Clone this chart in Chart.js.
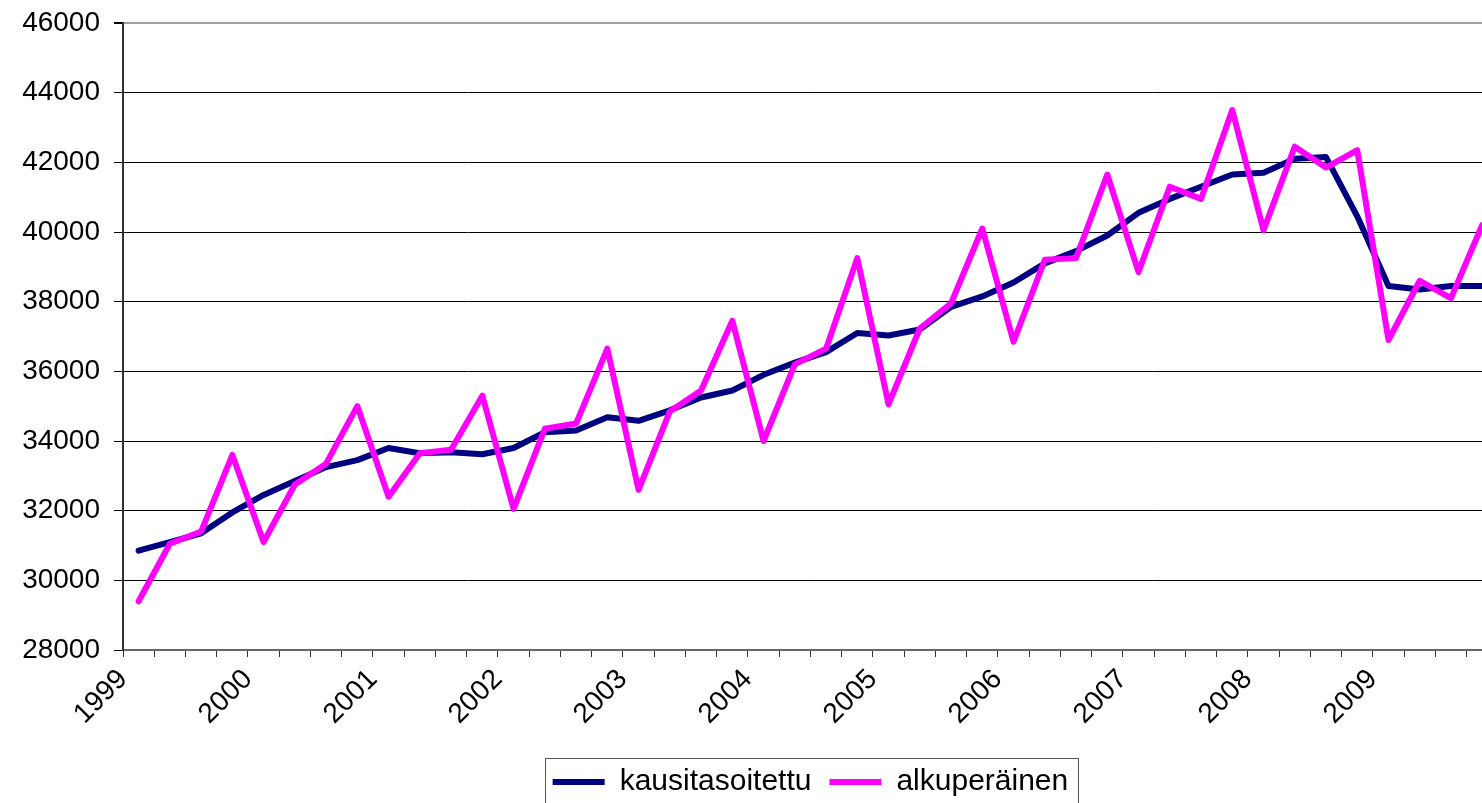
<!DOCTYPE html>
<html lang="fi">
<head>
    <meta charset="UTF-8">
    <title>kausitasoitettu / alkuperäinen</title>
    <script src="https://cdn.jsdelivr.net/npm/chart.js@4.4.1/dist/chart.umd.min.js"></script>
    <style>
        html, body { margin: 0; padding: 0; background: #fff; overflow: hidden; }
        #wrap { position: absolute; left: 0; top: 0; }
    </style>
</head>
<body>
<div id="wrap">
    <canvas id="chart" width="1512" height="810"></canvas>
</div>

<script>
    // vuosineljännekset 1999 Q1 - 2009 Q4
    const years = ['1999', '2000', '2001', '2002', '2003', '2004', '2005', '2006', '2007', '2008', '2009'];
    const quarterLabels = years.flatMap(y => [y, '', '', '']);

    const kausitasoitettu = [
        30850, 31100, 31350, 31950, 32450, 32850, 33250, 33450,
        33800, 33650, 33680, 33620, 33800, 34250, 34300, 34680,
        34580, 34880, 35250, 35450, 35900, 36250, 36550, 37100,
        37030, 37200, 37850, 38150, 38550, 39100, 39450, 39900,
        40550, 40950, 41300, 41650, 41700, 42100, 42150, 40450,
        38450, 38350, 38450, 38450
    ];

    const alkuperainen = [
        29400, 31050, 31400, 33600, 31100, 32750, 33350, 35000,
        32400, 33650, 33750, 35300, 32050, 34350, 34500, 36650,
        32600, 34850, 35450, 37450, 34000, 36200, 36650, 39250,
        35050, 37230, 37950, 40100, 36850, 39200, 39250, 41650,
        38850, 41300, 40950, 43500, 40050, 42450, 41850, 42350,
        36900, 38600, 38100, 40200
    ];

    const yMin = 28000, yMax = 46000, yStep = 2000;
    const font = 'Liberation Sans, Arial, sans-serif';

    // kehys legendan ympärille
    const legendFrame = {
        id: 'legendFrame',
        afterDraw(chart) {
            const lg = chart.legend;
            if (!lg || !lg.legendHitBoxes.length) return;
            const hb = lg.legendHitBoxes;
            const first = hb[0], last = hb[hb.length - 1];
            const left = Math.round(first.left - 8) + 0.5;
            const right = Math.round(last.left + last.width + 10) + 0.5;
            const top = Math.round(first.top + first.height / 2 - 24) + 0.5;
            const ctx = chart.ctx;
            ctx.save();
            ctx.strokeStyle = '#555';
            ctx.lineWidth = 1;
            ctx.strokeRect(left, top, right - left, chart.height + 10 - top);
            ctx.restore();
        }
    };

    new Chart(document.getElementById('chart'), {
        type: 'line',
        data: {
            labels: quarterLabels,
            datasets: [
                {
                    label: 'kausitasoitettu',
                    data: kausitasoitettu,
                    borderColor: '#000080',
                    backgroundColor: '#000080',
                    borderWidth: 6,
                    pointRadius: 0,
                    pointStyle: 'line',
                    tension: 0,
                    borderJoinStyle: 'round',
                    borderCapStyle: 'round',
                    order: 1
                },
                {
                    label: 'alkuperäinen',
                    data: alkuperainen,
                    borderColor: '#ff00ff',
                    backgroundColor: '#ff00ff',
                    borderWidth: 6,
                    pointRadius: 0,
                    pointStyle: 'line',
                    tension: 0,
                    borderJoinStyle: 'round',
                    borderCapStyle: 'round',
                    order: 0
                }
            ]
        },
        options: {
            responsive: false,
            animation: false,
            devicePixelRatio: 1,
            layout: { padding: { top: 23, right: 0, bottom: 3, left: 0 } },
            plugins: {
                tooltip: { enabled: false },
                legend: {
                    position: 'bottom',
                    fullSize: false,
                    labels: {
                        usePointStyle: true,
                        pointStyleWidth: 52,
                        padding: 18,
                        color: '#000',
                        font: { family: font, size: 30 },
                        sort: (a, b) => a.datasetIndex - b.datasetIndex
                    }
                }
            },
            scales: {
                x: {
                    type: 'category',
                    offset: true,
                    afterFit: (scale) => { scale.height = 99; },
                    grid: {
                        offset: true,
                        drawOnChartArea: false,
                        tickLength: 7,
                        tickColor: '#333'
                    },
                    border: { color: '#666', width: 2 },
                    ticks: {
                        autoSkip: false,
                        minRotation: 45,
                        maxRotation: 45,
                        labelOffset: -15.65,
                        padding: 6,
                        color: '#000',
                        font: { family: font, size: 28 }
                    }
                },
                y: {
                    min: yMin,
                    max: yMax,
                    afterFit: (scale) => { scale.width = 123; },
                    grid: {
                        color: (c) => c.tick && c.tick.value === yMax ? '#a0a0a0' : '#000',
                        lineWidth: (c) => c.tick && c.tick.value === yMax ? 2 : 1,
                        tickColor: '#000',
                        tickLength: 9
                    },
                    border: { color: '#333', width: 2 },
                    ticks: {
                        stepSize: yStep,
                        padding: 14,
                        color: '#000',
                        font: { family: font, size: 28, lineHeight: 0.6 },
                        callback: (v) => String(v)
                    }
                }
            }
        },
        plugins: [legendFrame]
    });
</script>
</body>
</html>
